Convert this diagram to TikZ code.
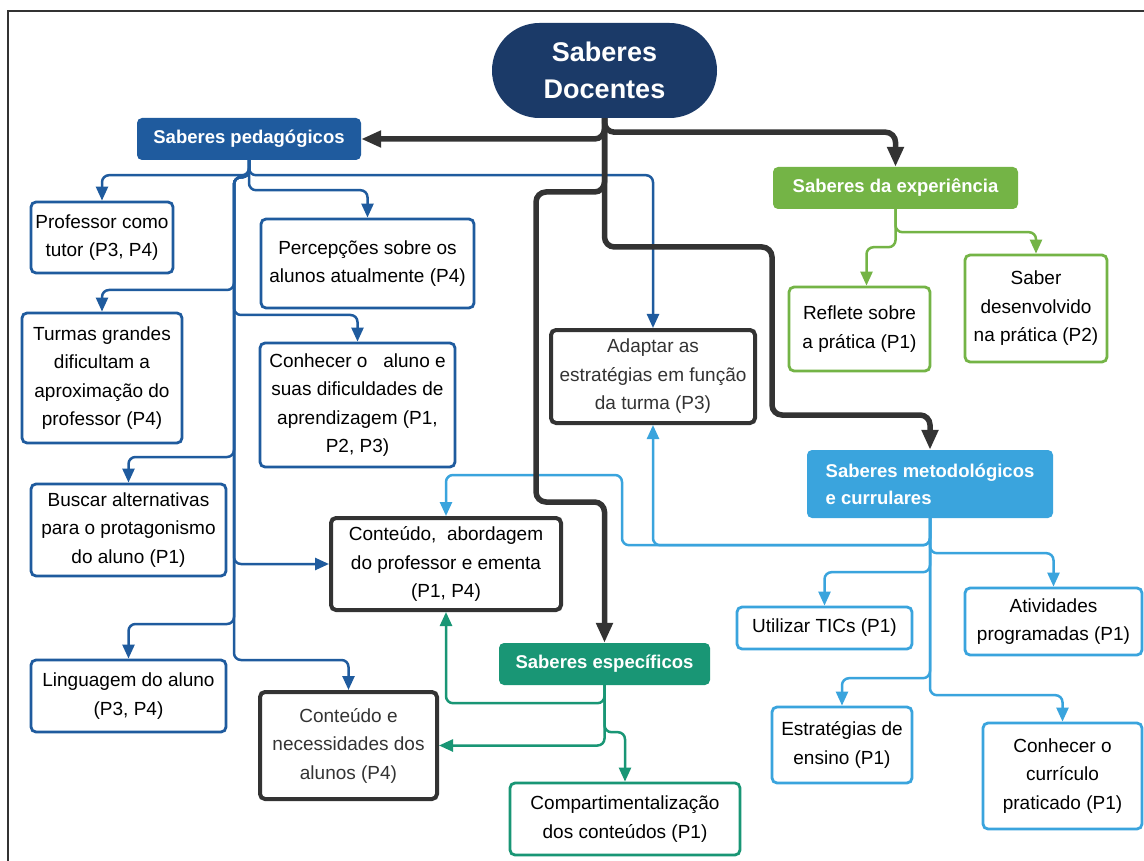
\documentclass[tikz,border=0pt]{standalone}
\usepackage{fontspec}
\setmainfont{Liberation Sans}
\usetikzlibrary{arrows.meta,shapes.misc}
\definecolor{navy}{HTML}{1B3A68}
\definecolor{pedblue}{HTML}{1F5B9E}
\definecolor{expgreen}{HTML}{74B446}
\definecolor{espteal}{HTML}{199675}
\definecolor{metblue}{HTML}{3AA4DD}
\definecolor{darkline}{HTML}{333333}
\begin{document}
\begin{tikzpicture}[x=1pt,y=-1pt,
  every node/.style={inner sep=2pt, align=center, font=\fontsize{19}{28.5}\selectfont},
  root/.style={rounded rectangle, fill=navy, text=white, minimum width=229pt, minimum height=95pt, font=\fontsize{27}{37}\selectfont\bfseries},
  hdr/.style={rounded corners=5pt, text=white, font=\fontsize{18.5}{27}\selectfont\bfseries, minimum height=42pt},
  leaf/.style={draw, fill=white, rounded corners=5pt, line width=2.8pt, text=black},
  pleaf/.style={leaf, draw=pedblue},
  gleaf/.style={leaf, draw=expgreen},
  tleaf/.style={leaf, draw=espteal},
  mleaf/.style={leaf, draw=metblue},
  dleaf/.style={leaf, draw=darkline, line width=4pt},
  blk/.style={draw=darkline, line width=5.5pt, rounded corners=10pt, -{Triangle[length=20pt,width=16pt]}},
  thin/.style={line width=2.5pt, rounded corners=7pt, -{Triangle[length=14pt,width=12pt]}},
  pl/.style={thin, draw=pedblue},
  gl/.style={thin, draw=expgreen},
  tl/.style={thin, draw=espteal},
  ml/.style={thin, draw=metblue}
]
\useasboundingbox (0,0) rectangle (1144,861);
\fill[white] (0,0) rectangle (1144,861);
\draw[line width=2pt, darkline] (8,861) -- (8,11) -- (1144,11);

% nodes
\node[root] (doc) at (604.5,70.5) {Saberes\\Docentes};
\node[hdr, fill=pedblue, minimum width=224pt] (ped) at (249,139) {Saberes pedagógicos};
\node[hdr, fill=expgreen, minimum width=245pt] (exp) at (895.5,188) {Saberes da experiência};
\node[hdr, fill=espteal, minimum width=211pt] (esp) at (604.5,664) {Saberes específicos};
\node[hdr, fill=metblue, minimum width=246pt, minimum height=68pt, align=left] (met) at (930,484) {Saberes metodológicos\\e currulares};

\node[pleaf, minimum width=142pt, minimum height=71pt] (tutor) at (102,237.5) {Professor como\\tutor (P3, P4)};
\node[pleaf, minimum width=213pt, minimum height=89pt] (perc) at (367.5,263.5) {Percepções sobre os\\alunos atualmente (P4)};
\node[pleaf, minimum width=160pt, minimum height=130pt] (turmas) at (102,378) {Turmas grandes\\dificultam a\\aproximação do\\professor (P4)};
\node[pleaf, minimum width=195pt, minimum height=124pt] (conh) at (357.5,405) {Conhecer o \ \ aluno e\\suas dificuldades de\\aprendizagem (P1,\\P2, P3)};
\node[pleaf, minimum width=195pt, minimum height=92pt] (busc) at (128.5,530) {Buscar alternativas\\para o protagonismo\\do aluno (P1)};
\node[pleaf, minimum width=195pt, minimum height=72pt] (ling) at (128.5,696) {Linguagem do aluno\\(P3, P4)};

\node[dleaf, minimum width=230pt, minimum height=92pt] (cab) at (446,564) {Conteúdo,\ \ abordagem\\do professor e ementa\\(P1, P4)};
\node[dleaf, minimum width=204pt, minimum height=93pt, text=darkline] (adapt) at (653,376.5) {Adaptar as\\estratégias em função\\da turma (P3)};
\node[dleaf, minimum width=177pt, minimum height=107pt, text=darkline] (cneed) at (348.5,745.5) {Conteúdo e\\necessidades dos\\alunos (P4)};

\node[gleaf, minimum width=141pt, minimum height=84pt] (refl) at (859.5,329) {Reflete sobre\\a prática (P1)};
\node[gleaf, minimum width=142pt, minimum height=107pt] (sdes) at (1036,308.5) {Saber\\desenvolvido\\na prática (P2)};

\node[tleaf, minimum width=230pt, minimum height=72pt] (comp) at (625,819) {Compartimentalização\\dos conteúdos (P1)};

\node[mleaf, minimum width=175pt, minimum height=42pt] (tic) at (824.5,628) {Utilizar TICs (P1)};
\node[mleaf, minimum width=177pt, minimum height=67pt] (ativ) at (1053.5,621.5) {Atividades\\programadas (P1)};
\node[mleaf, minimum width=140pt, minimum height=76pt] (estr) at (842,745) {Estratégias de\\ensino (P1)};
\node[mleaf, minimum width=159pt, minimum height=106pt] (curr) at (1062.5,776) {Conhecer o\\currículo\\praticado (P1)};

% pedagogical (dark blue)
\draw[pl] (ped.south) -- ++(0,15) -| (tutor.north);
\draw[pl] (ped.south) -- ++(0,15) -| (adapt.north);
\draw[pl] (ped.south) -- ++(0,30) -| (perc.north);
\draw[pl] (ped.south) -- ++(0,17) -| (234,290) -| (turmas.north);
\draw[pl] (ped.south) -- ++(0,17) -| (234,315) -| (conh.north);
\draw[pl] (ped.south) -- ++(0,17) -| (234,457) -| (busc.north);
\draw[pl] (ped.south) -- ++(0,17) -| (234,564) -- (cab.west);
\draw[pl] (ped.south) -- ++(0,17) -| (234,624) -| (ling.north);
\draw[pl] (ped.south) -- ++(0,17) -| (234,660) -| (cneed.north);

% methodological (light blue)
\draw[ml] (met.south) -- ++(0,27) -| (adapt.south);
\draw[ml] (met.south) -- ++(0,27) -| (622,475) -| (cab.north);
\draw[ml] (met.south) -- ++(0,35) -| (ativ.north);
\draw[ml] (met.south) -- ++(0,54) -| (tic.north);
\draw[ml] (met.south) -- ++(0,160) -| (estr.north);
\draw[ml] (met.south) -- ++(0,177) -| (curr.north);

% experience (green)
\draw[gl] (exp.south) -- ++(0,23) -| (sdes.north);
\draw[gl] (exp.south) -- ++(0,38) -| ([xshift=7pt]refl.north);

% specific (teal)
\draw[tl] (esp.south) -- ++(0,18) -| (cab.south);
\draw[tl] (esp.south) |- (cneed.east);
\draw[tl] (esp.south) -- ++(0,47) -| (comp.north);

% main (black)
\draw[blk] (doc.south) |- (ped.east);
\draw[blk] (doc.south) -- ++(0,14) -| (exp.north);
\draw[blk] (doc.south) |- (536,192) |- (604.5,502) -- (esp.north);
\draw[blk] (doc.south) |- (772,247) |- (930,415) -- (met.north);
\end{tikzpicture}
\end{document}
